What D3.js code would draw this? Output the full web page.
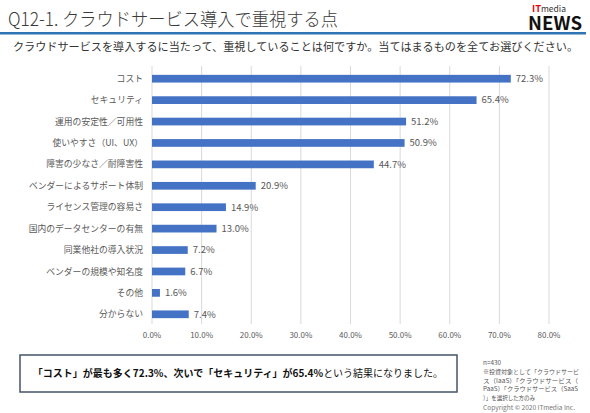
<!DOCTYPE html>
<html lang="ja">
<head>
  <meta charset="UTF-8">
  <title>Q12-1 クラウドサービス導入で重視する点</title>
  <script src='https://d3js.org/d3.v7.min.js'></script>
  <style>
    body { margin: 0; background: #fff; }
    text { font-family: "Noto Sans CJK JP", "Noto Sans", sans-serif; }
  </style>
</head>
<body>
</body>
<script>
  const width = 590, height = 413;

  // data
  const categories = [
    'コスト', 'セキュリティ', '運用の安定性／可用性', '使いやすさ（UI、UX）',
    '障害の少なさ／耐障害性', 'ベンダーによるサポート体制', 'ライセンス管理の容易さ',
    '国内のデータセンターの有無', '同業他社の導入状況', 'ベンダーの規模や知名度',
    'その他', '分からない'
  ];
  const values = [72.3, 65.4, 51.2, 50.9, 44.7, 20.9, 14.9, 13.0, 7.2, 6.7, 1.6, 7.4];
  const ticks = [0, 10, 20, 30, 40, 50, 60, 70, 80];
  const notes = [
    'n=430',
    '※投資対象として「クラウドサービ',
    'ス（IaaS）「クラウドサービス（',
    'PaaS）「クラウドサービス（SaaS',
    '）」を選択した方のみ'
  ];
  const noteWidths = [18, 96, 95, 95, 52];

  const svg = d3.select('body').append('svg')
    .attr('width', width).attr('height', height);

  // header
  svg.append('text')
    .attr('x', 8).attr('y', 26)
    .attr('font-size', 18.5)
    .attr('font-weight', 300)
    .attr('fill', '#3a3a3a')
    .attr('textLength', 330).attr('lengthAdjust', 'spacingAndGlyphs')
    .text('Q12-1. クラウドサービス導入で重視する点');

  svg.append('rect')
    .attr('x', 0).attr('y', 32).attr('width', 586).attr('height', 2.5)
    .attr('fill', '#2e75b6');

  // logo (two small words, then NEWS underneath)
  svg.append('text')
    .attr('x', 532).attr('y', 12)
    .attr('font-family', 'Liberation Sans, Arial, sans-serif')
    .attr('font-weight', 'bold').attr('font-size', 9.5)
    .attr('fill', '#e60012').text('IT');
  svg.append('text')
    .attr('x', 541).attr('y', 12)
    .attr('font-family', 'Liberation Sans, Arial, sans-serif')
    .attr('font-size', 8.5)
    .attr('fill', '#333').text('media');
  svg.append('text')
    .attr('x', 528).attr('y', 29.5)
    .attr('font-family', 'Liberation Sans Narrow, Liberation Sans, Arial, sans-serif')
    .attr('font-weight', 'bold').attr('font-size', 18.5)
    .attr('textLength', 54).attr('lengthAdjust', 'spacingAndGlyphs')
    .attr('fill', '#111').text('NEWS');

  svg.append('text')
    .attr('x', 13).attr('y', 51)
    .attr('font-size', 11)
    .attr('fill', '#333')
    .attr('textLength', 565).attr('lengthAdjust', 'spacingAndGlyphs')
    .text('クラウドサービスを導入するに当たって、重視していることは何ですか。当てはまるものを全てお選びください。');

  // scales
  const x = d3.scaleLinear().domain([0, 80]).range([152, 549]);
  const y = d3.scaleBand().domain(categories).range([68, 325])
    .paddingInner(0.64).paddingOuter(0.32);

  // grid
  svg.append('g')
    .selectAll('line')
    .data(ticks)
    .join('line')
    .attr('x1', d => x(d)).attr('x2', d => x(d))
    .attr('y1', 66).attr('y2', 324)
    .attr('stroke', '#d9d9d9').attr('stroke-width', 1);

  // x axis labels
  svg.append('g')
    .selectAll('text')
    .data(ticks)
    .join('text')
    .attr('x', d => x(d)).attr('y', 338)
    .attr('text-anchor', 'middle')
    .attr('font-size', 8)
    .attr('fill', '#595959')
    .text(d => d.toFixed(1) + '%');

  // bars
  const rows = categories.map((c, i) => ({c, v: values[i]}));
  svg.append('g')
    .selectAll('rect')
    .data(rows)
    .join('rect')
    .attr('x', x(0))
    .attr('y', d => y(d.c))
    .attr('width', d => x(d.v) - x(0))
    .attr('height', y.bandwidth())
    .attr('fill', '#4472c4');

  // category labels
  svg.append('g')
    .selectAll('text')
    .data(rows)
    .join('text')
    .attr('x', 143)
    .attr('y', d => y(d.c) + y.bandwidth() / 2)
    .attr('dy', '0.35em')
    .attr('text-anchor', 'end')
    .attr('font-size', 8.8)
    .attr('fill', '#595959')
    .text(d => d.c);

  // value labels
  svg.append('g')
    .selectAll('text')
    .data(rows)
    .join('text')
    .attr('x', d => x(d.v) + 5)
    .attr('y', d => y(d.c) + y.bandwidth() / 2)
    .attr('dy', '0.35em')
    .attr('font-size', 9.5)
    .attr('fill', '#595959')
    .text(d => d.v.toFixed(1) + '%');

  // summary box
  svg.append('rect')
    .attr('x', 20).attr('y', 355).attr('width', 437).attr('height', 37)
    .attr('fill', '#fff')
    .attr('stroke', '#44546a').attr('stroke-width', 1.5);

  const summary = svg.append('text')
    .attr('x', 238).attr('y', 377)
    .attr('text-anchor', 'middle')
    .attr('font-size', 10)
    .attr('fill', '#111');
  summary.append('tspan').attr('font-weight', 'bold')
    .text('「コスト」が最も多く72.3%、次いで「セキュリティ」が65.4%');
  summary.append('tspan').text('という結果になりました。');

  // notes
  svg.append('g')
    .selectAll('text')
    .data(notes)
    .join('text')
    .attr('x', 483)
    .attr('y', (d, i) => 365 + i * 8.8)
    .attr('font-size', 6.2)
    .attr('fill', '#555')
    .attr('textLength', (d, i) => noteWidths[i]).attr('lengthAdjust', 'spacingAndGlyphs')
    .text(d => d);

  svg.append('text')
    .attr('x', 483).attr('y', 410)
    .attr('font-size', 6.5)
    .attr('fill', '#777')
    .attr('textLength', 92).attr('lengthAdjust', 'spacingAndGlyphs')
    .text('Copyright © 2020 ITmedia Inc.');
</script>
</html>
